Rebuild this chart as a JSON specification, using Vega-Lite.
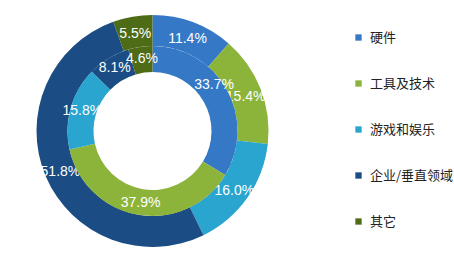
{
  "$schema": "https://vega.github.io/schema/vega-lite/v6.json",
  "width": 305,
  "height": 262,
  "padding": {"left": 0, "top": 0, "right": 149, "bottom": 4},
  "autosize": {"type": "none"},
  "background": "white",
  "config": {"view": {"stroke": null}},
  "data": {
    "values": [
      {"ring": "outer", "category": "硬件", "idx": 1, "value": 11.4, "label": "11.4%"},
      {"ring": "outer", "category": "工具及技术", "idx": 2, "value": 15.4, "label": "15.4%"},
      {"ring": "outer", "category": "游戏和娱乐", "idx": 3, "value": 16.0, "label": "16.0%"},
      {"ring": "outer", "category": "企业/垂直领域", "idx": 4, "value": 51.8, "label": "51.8%"},
      {"ring": "outer", "category": "其它", "idx": 5, "value": 5.5, "label": "5.5%"},
      {"ring": "inner", "category": "硬件", "idx": 1, "value": 33.7, "label": "33.7%"},
      {"ring": "inner", "category": "工具及技术", "idx": 2, "value": 37.9, "label": "37.9%"},
      {"ring": "inner", "category": "游戏和娱乐", "idx": 3, "value": 15.8, "label": "15.8%"},
      {"ring": "inner", "category": "企业/垂直领域", "idx": 4, "value": 8.1, "label": "8.1%"},
      {"ring": "inner", "category": "其它", "idx": 5, "value": 4.6, "label": "4.6%"}
    ]
  },
  "encoding": {
    "theta": {"field": "value", "type": "quantitative", "stack": true},
    "order": {"field": "idx", "type": "quantitative"},
    "color": {
      "field": "category",
      "type": "nominal",
      "scale": {
        "domain": ["硬件", "工具及技术", "游戏和娱乐", "企业/垂直领域", "其它"],
        "range": ["#3478c6", "#8cb43a", "#2aa5cf", "#1b4d84", "#4e6b16"]
      },
      "legend": {
        "title": null,
        "orient": "none",
        "legendX": 352,
        "legendY": 31,
        "symbolType": "square",
        "symbolSize": 40,
        "symbolStrokeWidth": 0,
        "labelFont": "Noto Sans CJK SC",
        "labelFontSize": 13,
        "labelColor": "#222222",
        "labelOffset": 5,
        "rowPadding": 32
      }
    }
  },
  "layer": [
    {
      "transform": [{"filter": "datum.ring === 'outer'"}],
      "layer": [
        {
          "mark": {"type": "arc", "radius": 116, "radius2": 85}
        },
        {
          "mark": {"type": "text", "radius": 100, "font": "Liberation Sans", "fontSize": 14, "dy": 2},
          "encoding": {
            "text": {"field": "label", "type": "nominal"},
            "color": {"value": "white"}
          }
        }
      ]
    },
    {
      "transform": [{"filter": "datum.ring === 'inner'"}],
      "layer": [
        {
          "mark": {"type": "arc", "radius": 85, "radius2": 59}
        },
        {
          "mark": {"type": "text", "radius": 73, "font": "Liberation Sans", "fontSize": 14},
          "encoding": {
            "text": {"field": "label", "type": "nominal"},
            "color": {"value": "white"},
            "opacity": {"condition": {"test": "datum.idx === 1", "value": 0}, "value": 1}
          }
        },
        {
          "mark": {"type": "text", "radius": 73, "font": "Liberation Sans", "fontSize": 14, "dy": -10, "dx": -2},
          "encoding": {
            "text": {"field": "label", "type": "nominal"},
            "color": {"value": "white"},
            "opacity": {"condition": {"test": "datum.idx === 1", "value": 1}, "value": 0}
          }
        }
      ]
    }
  ]
}
